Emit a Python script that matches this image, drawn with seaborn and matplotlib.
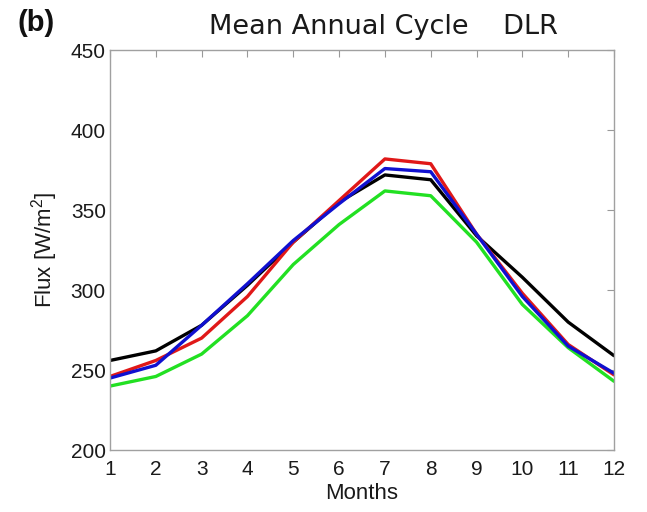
import matplotlib
matplotlib.use("Agg")
import matplotlib.pyplot as plt
import seaborn as sns
import pandas as pd

months = list(range(1, 13))
obs_black = [256, 262, 278, 303, 330, 355, 372, 369, 334, 308, 280, 259]
run_red = [246, 256, 270, 296, 330, 356, 382, 379, 335, 298, 266, 247]
run_blue = [245, 253, 278, 304, 331, 354, 376, 374, 335, 296, 265, 248]
run_green = [240, 246, 260, 284, 316, 341, 362, 359, 330, 291, 264, 243]

series_names = ["black", "green", "red", "blue"]
series_values = [obs_black, run_green, run_red, run_blue]
palette = {"black": "#000000", "green": "#22e022", "red": "#e01818", "blue": "#1010d0"}

df = pd.DataFrame(
    [(m, v, n) for n, vals in zip(series_names, series_values) for m, v in zip(months, vals)],
    columns=["month", "flux", "series"],
)

sns.set_style("white")
plt.rcParams["font.family"] = ["Liberation Sans", "DejaVu Sans"]
plt.rcParams["text.color"] = "#1a1a1a"
plt.rcParams["axes.labelcolor"] = "#1a1a1a"
plt.rcParams["xtick.color"] = "#1a1a1a"
plt.rcParams["ytick.color"] = "#1a1a1a"
plt.rcParams["mathtext.default"] = "regular"

fig = plt.figure(figsize=(6.47, 5.12), dpi=100)
ax = fig.add_axes([0.170, 0.121, 0.779, 0.781])

sns.lineplot(data=df, x="month", y="flux", hue="series", palette=palette,
             hue_order=series_names, linewidth=2.4, legend=False, ax=ax)

ax.set_xlim(1, 12)
ax.set_ylim(200, 450)
ax.set_xticks(months)
ax.set_yticks([200, 250, 300, 350, 400, 450])
ax.tick_params(direction="in", length=5, width=0.8, color="#999999",
               labelsize=15, top=True, right=True)
ax.tick_params(axis="x", pad=7)
ax.tick_params(axis="y", pad=3)
for s in ax.spines.values():
    s.set_color("#a0a0a0")
    s.set_linewidth(1.0)

ax.set_xlabel("Months", fontsize=16, labelpad=3)
ax.set_ylabel("Flux [W/m$^2$]", fontsize=16, labelpad=8)
ax.set_title("Mean Annual Cycle    DLR", fontsize=19.5, pad=12, x=0.542,
             family="DejaVu Sans")
fig.text(0.027, 0.94, "(b)", fontsize=21, fontweight="bold", color="#111111")

fig.savefig("out.png", dpi=100, facecolor="white")
